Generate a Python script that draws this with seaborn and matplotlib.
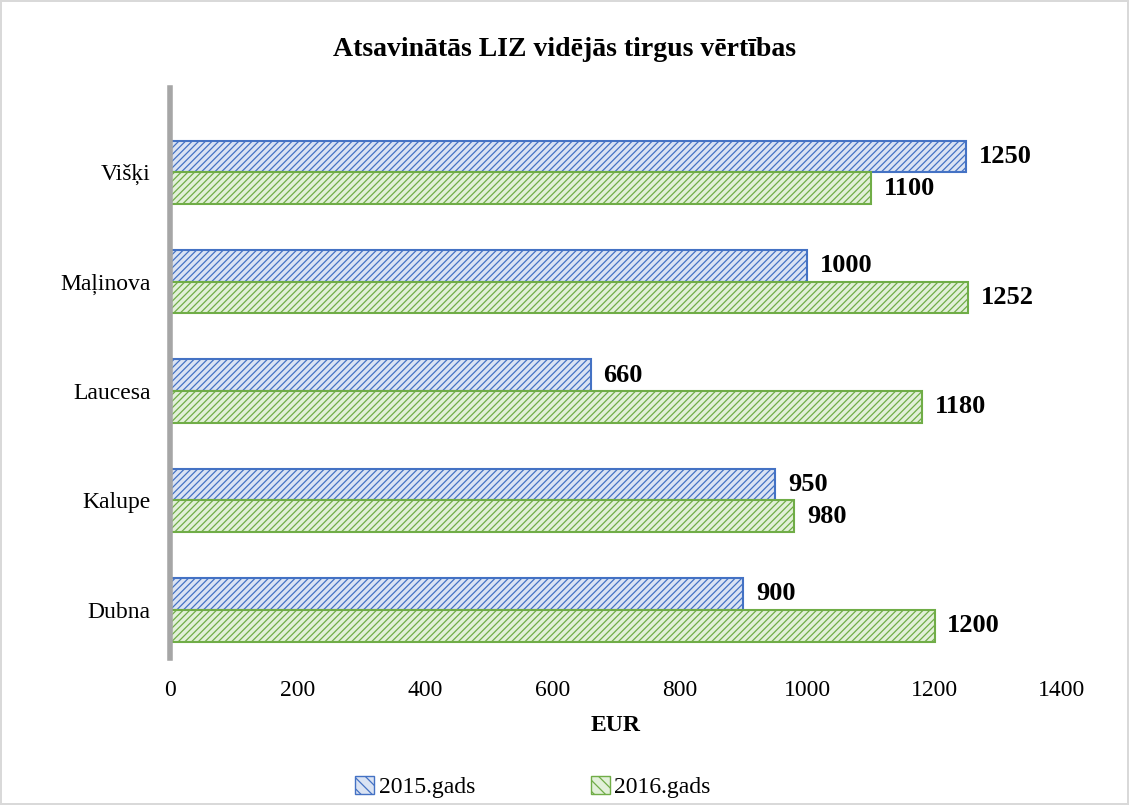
import matplotlib
matplotlib.use("Agg")
import matplotlib.pyplot as plt
import seaborn as sns
import pandas as pd
from matplotlib.patches import Patch

categories = ["Višķi", "Maļinova", "Laucesa", "Kalupe", "Dubna"]
values_2015 = [1250, 1000, 660, 950, 900]
values_2016 = [1100, 1252, 1180, 980, 1200]
series = ["2015.gads", "2016.gads"]
x_ticks = [0, 200, 400, 600, 800, 1000, 1200, 1400]

face = {"2015.gads": "#dae3f3", "2016.gads": "#e2f0d9"}
edge = {"2015.gads": "#4472c4", "2016.gads": "#70ad47"}

df = pd.DataFrame({
    "cat": categories * 2,
    "val": values_2015 + values_2016,
    "year": [series[0]] * len(categories) + [series[1]] * len(categories),
})

sns.set_theme(style="white")
plt.rcParams["font.family"] = ["Liberation Serif", "DejaVu Serif"]
plt.rcParams["hatch.linewidth"] = 0.9
plt.rcParams["text.color"] = "black"
plt.rcParams["xtick.color"] = "black"
plt.rcParams["ytick.color"] = "black"
plt.rcParams["axes.labelcolor"] = "black"

fig = plt.figure(figsize=(11.29, 8.05), dpi=100)
fig.patch.set_edgecolor("#d9d9d9")
fig.patch.set_linewidth(1.5)
ax = fig.add_axes([170 / 1129, 1 - 658 / 805, (1062 - 170) / 1129, (658 - 88) / 805])

sns.barplot(data=df, y="cat", x="val", hue="year", order=categories,
            hue_order=series, orient="h", width=0.58, palette=face,
            ax=ax, legend=False, saturation=1)

n = len(categories)
for i, p in enumerate(ax.patches[: 2 * n]):
    yr = series[i // n]
    p.set_facecolor(face[yr])
    p.set_edgecolor(edge[yr])
    p.set_linewidth(1.5)
    p.set_hatch("/////")

for i, p in enumerate(ax.patches[: 2 * n]):
    w = p.get_width()
    yc = p.get_y() + p.get_height() / 2
    ax.text(w + 20, yc, f"{int(w)}", va="center", ha="left",
            fontsize=19, fontweight="bold", color="black")

ax.set_xlim(0, 1400)
ax.set_ylim(4.44, -0.77)
ax.set_xticks(x_ticks)
ax.set_xticklabels([str(t) for t in x_ticks], fontsize=17)
ax.tick_params(axis="y", labelsize=17, length=0, pad=14)
ax.tick_params(axis="x", length=0, pad=16)
ax.set_ylabel("")
ax.set_xlabel("EUR", fontsize=17, fontweight="bold", labelpad=10)
for s in ["top", "right", "bottom"]:
    ax.spines[s].set_visible(False)
ax.spines["left"].set_color("#a6a6a6")
ax.spines["left"].set_linewidth(4)

fig.text(0.5, 1 - 50 / 805, "Atsavinātās LIZ vidējās tirgus vērtības",
         ha="center", va="center", fontsize=20, fontweight="bold")

handles = [Patch(facecolor=face[s], edgecolor=edge[s], hatch="\\\\\\", label=s) for s in series]
fig.legend(handles=handles, loc="center", bbox_to_anchor=(0.472, 1 - 787 / 805),
           ncol=2, frameon=False, fontsize=17, columnspacing=4.9,
           handlelength=0.8, handleheight=0.8, handletextpad=0.2)

fig.savefig("out.png", dpi=100)
